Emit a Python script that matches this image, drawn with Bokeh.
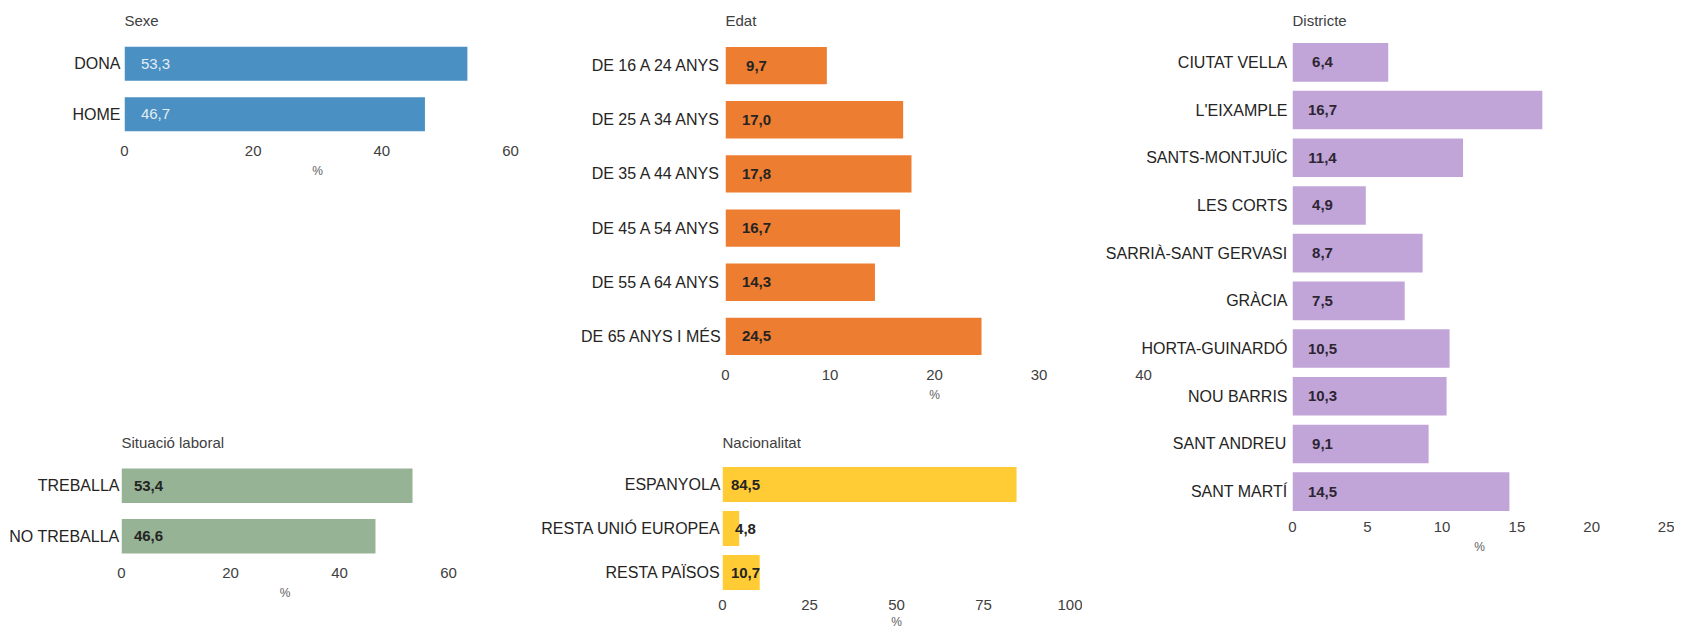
from bokeh.plotting import figure
from bokeh.models import FactorRange, Range1d, FixedTicker, ColumnDataSource
from bokeh.layouts import row, column
from bokeh.embed import file_html
from bokeh.resources import INLINE
from bokeh.core.properties import value

FONT = "Liberation Sans"

# ---- data ----
sexe_cats = ["DONA", "HOME"]
sexe_vals = [53.3, 46.7]
sexe_ticks = [0, 20, 40, 60]

edat_cats = ["DE 16 A 24 ANYS", "DE 25 A 34 ANYS", "DE 35 A 44 ANYS",
             "DE 45 A 54 ANYS", "DE 55 A 64 ANYS", "DE 65 ANYS I MÉS"]
edat_vals = [9.7, 17.0, 17.8, 16.7, 14.3, 24.5]
edat_ticks = [0, 10, 20, 30, 40]

districte_cats = ["CIUTAT VELLA", "L'EIXAMPLE", "SANTS-MONTJUÏC", "LES CORTS",
                  "SARRIÀ-SANT GERVASI", "GRÀCIA", "HORTA-GUINARDÓ", "NOU BARRIS",
                  "SANT ANDREU", "SANT MARTÍ"]
districte_vals = [6.4, 16.7, 11.4, 4.9, 8.7, 7.5, 10.5, 10.3, 9.1, 14.5]
districte_ticks = [0, 5, 10, 15, 20, 25]

situacio_cats = ["TREBALLA", "NO TREBALLA"]
situacio_vals = [53.4, 46.6]
situacio_ticks = [0, 20, 40, 60]

nacio_cats = ["ESPANYOLA", "RESTA UNIÓ EUROPEA", "RESTA PAÏSOS"]
nacio_vals = [84.5, 4.8, 10.7]
nacio_ticks = [0, 25, 50, 75, 100]


def fmt(v):
    return f"{v:.1f}".replace(".", ",")


def panel(title, cats, vals, ticks, color, width, height, mbl, mbr, mbt, mbb,
          frac, lab_off, lab_color, lab_style, title_standoff, ystandoff=4,
          transparent=False, xstandoff=6, lstandoff=5):
    p = figure(width=width, height=height,
               y_range=FactorRange(factors=list(reversed(cats))),
               x_range=Range1d(ticks[0], ticks[-1]),
               output_backend="svg", toolbar_location=None,
               min_border_left=mbl, min_border_right=mbr,
               min_border_top=mbt, min_border_bottom=mbb)
    p.title.text = title
    p.title.text_font = FONT
    p.title.text_font_size = "15px"
    p.title.text_font_style = "normal"
    p.title.text_color = "#404040"
    p.title.align = "left"
    p.title.standoff = title_standoff
    p.outline_line_color = None
    p.xgrid.visible = False
    p.ygrid.visible = False
    if transparent:
        p.background_fill_alpha = 0
        p.border_fill_alpha = 0

    src = ColumnDataSource(dict(y=cats, v=vals, x0=[ticks[0]] * len(cats),
                                lab=[fmt(v) for v in vals]))
    p.hbar(y="y", left="x0", right="v", height=frac, source=src,
           fill_color=color, line_color=None)
    p.text(x="x0", y="y", text="lab", source=src, x_offset=lab_off,
           text_align="center", text_baseline="middle",
           text_font=value(FONT), text_font_size="15px",
           text_font_style=lab_style, text_color=lab_color)

    xa = p.xaxis[0]
    xa.ticker = FixedTicker(ticks=ticks)
    xa.axis_line_color = None
    xa.major_tick_line_color = None
    xa.minor_tick_line_color = None
    xa.major_tick_out = 0
    xa.major_tick_in = 0
    xa.minor_tick_out = 0
    xa.minor_tick_in = 0
    xa.major_label_standoff = xstandoff
    xa.major_label_text_font = FONT
    xa.major_label_text_font_size = "15px"
    xa.major_label_text_color = "#404040"
    xa.axis_label = "%"
    xa.axis_label_text_font = FONT
    xa.axis_label_text_font_size = "12px"
    xa.axis_label_text_font_style = "normal"
    xa.axis_label_text_color = "#606060"
    xa.axis_label_standoff = lstandoff

    ya = p.yaxis[0]
    ya.axis_line_color = None
    ya.major_tick_line_color = None
    ya.minor_tick_line_color = None
    ya.major_tick_out = 0
    ya.major_tick_in = 0
    ya.major_label_standoff = ystandoff
    ya.major_label_text_font = FONT
    ya.major_label_text_font_size = "16px"
    ya.major_label_text_color = "#252423"
    return p


TOP = 38

sexe = panel("Sexe", sexe_cats, sexe_vals, sexe_ticks, "#4A90C2",
             535, 420, 124, 25, TOP, 281, 0.67, 31, "#E4EDF5", "normal", 19)
situacio = panel("Situació laboral", situacio_cats, situacio_vals, situacio_ticks,
                 "#97B396", 476, 212, 124, 25, 40, 71, 0.68, 27, "#252423",
                 "bold", 19, ystandoff=2)
situacio.margin = (0, 0, 0, -3)
edat = panel("Edat", edat_cats, edat_vals, edat_ticks, "#ED7D31",
             620, 420, 190, 12, TOP, 57, 0.69, 31, "#252423", "bold", 19)
nacio = panel("Nacionalitat", nacio_cats, nacio_vals, nacio_ticks, "#FFCC36",
              550, 212, 190, 12, 42, 38, 0.80, 23, "#252423", "bold", 23,
              ystandoff=2, xstandoff=5, lstandoff=2)
nacio.margin = (0, 0, 0, -3)
districte = panel("Districte", districte_cats, districte_vals, districte_ticks,
                  "#C1A5D8", 579, 632, 197, 8, TOP, 117, 0.81, 30, "#2E2533",
                  "bold", 19, ystandoff=5, transparent=True)
districte.margin = (0, 0, 0, -60)

layout = row(column(sexe, situacio), column(edat, nacio), districte)

with open("out.html", "w") as f:
    f.write(file_html(layout, INLINE))
